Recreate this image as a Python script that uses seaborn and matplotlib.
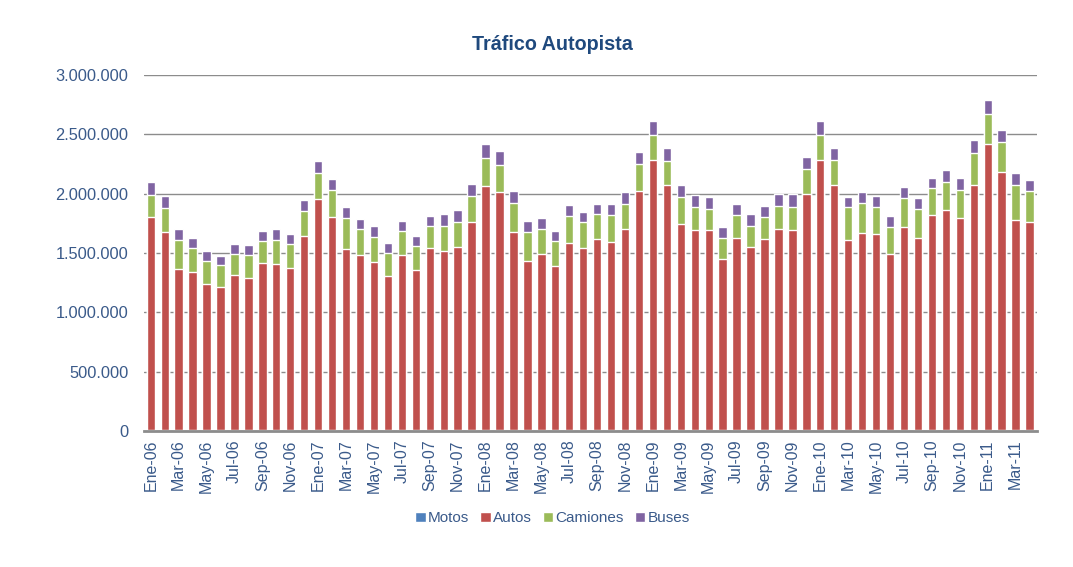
import numpy as np
import pandas as pd
import matplotlib
matplotlib.use("Agg")
import matplotlib.pyplot as plt
from matplotlib.patches import Patch
from matplotlib.ticker import FuncFormatter
import seaborn as sns

# meses Ene-06 .. Abr-11
meses_abr = ["Ene", "Feb", "Mar", "Abr", "May", "Jun", "Jul", "Ago", "Sep", "Oct", "Nov", "Dic"]
anios = ["06", "07", "08", "09", "10", "11"]
meses = [f"{m}-{a}" for a in anios for m in meses_abr][:64]

# valores en miles de vehiculos
motos = [5, 5, 4, 4, 4, 4, 5, 5, 5, 5, 5, 6,
         6, 6, 5, 5, 5, 5, 5, 5, 5, 6, 6, 6,
         7, 7, 6, 6, 6, 5, 6, 6, 6, 6, 7, 8,
         9, 8, 7, 7, 7, 6, 7, 7, 7, 7, 8, 9,
         10, 9, 8, 8, 8, 7, 8, 8, 8, 8, 9, 10,
         11, 10, 9, 9]
autos = [1798, 1672, 1361, 1336, 1232, 1212, 1310, 1282, 1408, 1402, 1369, 1637,
         1946, 1800, 1529, 1481, 1414, 1298, 1481, 1349, 1537, 1511, 1545, 1755,
         2058, 2007, 1674, 1429, 1486, 1388, 1578, 1536, 1609, 1587, 1698, 2017,
         2275, 2062, 1735, 1687, 1687, 1443, 1622, 1544, 1608, 1695, 1683, 1983,
         2274, 2064, 1604, 1661, 1652, 1487, 1711, 1618, 1807, 1857, 1786, 2063,
         2405, 2175, 1772, 1752]
camiones = [183, 199, 242, 199, 194, 180, 174, 193, 188, 205, 199, 208,
            219, 222, 264, 211, 213, 194, 197, 208, 183, 213, 213, 217,
            233, 225, 239, 239, 207, 205, 225, 214, 211, 222, 208, 222,
            208, 208, 227, 194, 177, 177, 186, 177, 186, 191, 194, 213,
            213, 208, 273, 252, 228, 228, 244, 242, 230, 236, 239, 270,
            258, 250, 292, 259]
buses = [107, 102, 90, 85, 90, 79, 84, 85, 87, 90, 90, 93,
         107, 98, 92, 87, 93, 87, 87, 84, 84, 96, 96, 101,
         118, 118, 101, 98, 96, 87, 96, 92, 90, 95, 104, 104,
         120, 104, 101, 101, 98, 90, 95, 98, 92, 107, 107, 104,
         115, 101, 84, 96, 90, 87, 90, 95, 90, 98, 98, 104,
         113, 104, 98, 92]

series = ["Motos", "Autos", "Camiones", "Buses"]
colores = ["#4F81BD", "#C0504D", "#9BBB59", "#8064A2"]

df = pd.DataFrame({"mes": meses, "Motos": motos, "Autos": autos,
                   "Camiones": camiones, "Buses": buses})
df[series] = df[series] * 1000
acum = df[series].cumsum(axis=1)
acum["mes"] = df["mes"]

sns.set_style("white")
plt.rcParams["font.family"] = ["Liberation Sans", "DejaVu Sans"]
txt = "#3A5A8A"

fig = plt.figure(figsize=(10.73, 5.67), dpi=100)
ax = fig.add_axes([0.134, 0.240, 0.832, 0.628])

# barras apiladas: se dibuja el acumulado desde arriba hacia abajo
for s, c in zip(series[::-1], colores[::-1]):
    sns.barplot(data=acum, x="mes", y=s, color=c, saturation=1, width=0.6,
                ax=ax, errorbar=None, zorder=3)

ax.set_xlim(-0.5, len(meses) - 0.5)
ax.set_ylim(0, 3000000)
ax.set_yticks(np.arange(0, 3000001, 500000))
ax.yaxis.set_major_formatter(FuncFormatter(lambda v, p: f"{v:,.0f}".replace(",", ".")))
ax.yaxis.grid(True, color="#8C8C8C", linewidth=1)
ax.set_axisbelow(True)

ax.set_xticks(range(0, len(meses), 2))
ax.set_xticklabels(meses[::2], rotation=90)
ax.set_xlabel("")
ax.set_ylabel("")
ax.tick_params(axis="x", length=0, pad=6, labelsize=11.5, labelcolor=txt)
ax.tick_params(axis="y", length=0, pad=11, labelsize=11.8, labelcolor=txt)

for sp in ["left", "right", "top"]:
    ax.spines[sp].set_visible(False)
ax.spines["bottom"].set_color("#8C8C8C")
ax.spines["bottom"].set_linewidth(2)
ax.spines["bottom"].set_zorder(4)

fig.text(0.515, 0.921, "Tráfico Autopista", ha="center", va="center",
         fontsize=14.2, fontweight="bold", color="#1F497D")

handles = [Patch(facecolor=c, label=s) for s, c in zip(series, colores)]
fig.legend(handles=handles, loc="center", bbox_to_anchor=(0.515, 0.086), ncol=4,
           frameon=False, fontsize=11, labelcolor=txt, handlelength=0.7,
           handleheight=0.7, handletextpad=0.15, columnspacing=0.7)

fig.savefig("out.png", dpi=100)
